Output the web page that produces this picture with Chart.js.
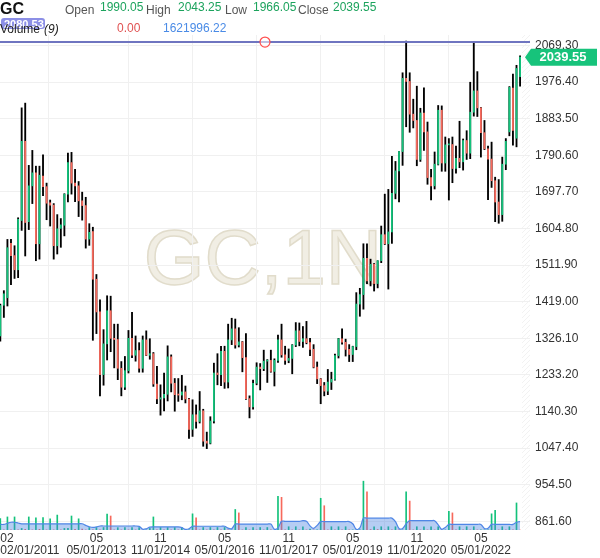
<!DOCTYPE html>
<html>
<head>
<meta charset="utf-8">
<script src="https://cdn.jsdelivr.net/npm/chart.js@4.4.0/dist/chart.umd.min.js"></script>
<style>
  html, body { margin: 0; padding: 0; background: #fff; }
  #wrap { position: relative; width: 600px; height: 558px; }
</style>
</head>
<body>
<div id="wrap"><canvas id="c" width="600" height="558"></canvas></div>
<script>
// GC,1N monthly bars, 02/2011 .. 04/2023 (index 0 = Feb 2011)
const opens = [
  1332,1410,1429,1567,1536,1500,1625,1826,1622,1713,1746,1566,
  1738,1711,1670,1664,1561,1605,1613,1692,1772,1720,1713,1675,
  1663,1578,1597,1476,1393,1234,1312,1396,1326,1323,1250,1202,
  1244,1326,1283,1295,1250,1322,1283,1287,1210,1172,1175,1184,
  1279,1212,1183,1182,1190,1172,1095,1132,1115,1142,1065,1060,
  1116,1238,1234,1293,1215,1322,1350,1309,1317,1277,1173,1152,
  1212,1253,1249,1268,1270,1242,1270,1322,1284,1270,1275,1309,
  1345,1318,1325,1315,1298,1253,1223,1206,1192,1215,1222,1282,
  1325,1316,1298,1285,1305,1413,1437,1529,1472,1514,1465,1523,
  1589,1566,1596,1694,1751,1800,1986,1978,1895,1879,1780,1898,
  1850,1734,1713,1768,1905,1771,1817,1818,1757,1783,1774,1828,
  1796,1900,1954,1911,1848,1807,1781,1726,1672,1640,1768,1850,
  1961,1834,1990.05
];
const highs = [
  1413,1447,1577,1577,1561,1632,1911,1923,1765,1803,1763,1763,
  1792,1720,1677,1668,1640,1630,1693,1796,1798,1755,1724,1697,
  1684,1617,1608,1488,1424,1348,1434,1433,1362,1362,1267,1280,
  1346,1392,1332,1315,1332,1345,1325,1290,1255,1208,1238,1307,
  1284,1224,1224,1232,1205,1174,1170,1157,1191,1146,1088,1127,
  1263,1287,1306,1306,1362,1377,1375,1353,1318,1338,1180,1220,
  1264,1262,1296,1272,1296,1274,1334,1362,1306,1299,1310,1366,
  1365,1356,1369,1326,1310,1266,1224,1214,1247,1240,1286,1326,
  1350,1324,1310,1306,1442,1453,1566,1566,1527,1516,1523,1611,
  1692,1704,1788,1775,1800,2000,2080.53,2000,1933,1966,1910,1962,
  1875,1755,1799,1917,1916,1837,1833,1837,1814,1877,1832,1853,
  1976,2075,2003,1912,1879,1814,1824,1735,1729,1786,1833,1965,
  1997,2019,2043.25
];
const lows = [
  1319,1379,1408,1462,1478,1480,1600,1535,1602,1668,1523,1527,
  1688,1627,1611,1527,1540,1557,1586,1672,1692,1673,1635,1626,
  1555,1562,1321,1338,1180,1207,1271,1292,1251,1221,1180,1196,
  1238,1277,1268,1240,1240,1282,1273,1204,1160,1131,1142,1167,
  1190,1141,1166,1170,1162,1072,1077,1098,1111,1052,1046,1058,
  1111,1208,1206,1199,1200,1310,1301,1304,1241,1171,1124,1146,
  1208,1195,1244,1214,1240,1205,1265,1278,1260,1264,1236,1305,
  1307,1303,1312,1282,1251,1211,1160,1180,1183,1196,1220,1276,
  1311,1281,1267,1267,1297,1382,1400,1465,1459,1446,1454,1518,
  1564,1451,1567,1680,1672,1765,1863,1849,1860,1764,1775,1803,
  1717,1677,1705,1766,1750,1750,1677,1721,1745,1759,1753,1780,
  1782,1890,1889,1786,1805,1678,1709,1622,1618,1623,1754,1840,
  1816,1812,1966.05
];
const closes = [
  1409,1439,1556,1536,1500,1628,1826,1620,1713,1746,1566,1740,
  1711,1669,1664,1561,1604,1614,1692,1772,1720,1713,1675,1663,
  1578,1595,1476,1393,1234,1312,1396,1326,1323,1250,1202,1244,
  1326,1283,1295,1250,1322,1283,1287,1210,1172,1175,1184,1279,
  1212,1183,1182,1190,1172,1095,1132,1115,1142,1065,1060,1116,
  1238,1234,1293,1215,1322,1350,1309,1317,1277,1173,1152,1212,
  1253,1249,1268,1270,1242,1270,1322,1284,1270,1275,1309,1345,
  1318,1325,1315,1298,1253,1223,1206,1192,1215,1222,1282,1325,
  1316,1298,1285,1305,1413,1437,1529,1472,1514,1465,1523,1589,
  1566,1596,1694,1751,1800,1986,1978,1895,1879,1780,1898,1850,
  1734,1713,1768,1905,1771,1817,1818,1757,1783,1774,1828,1796,
  1900,1954,1911,1848,1807,1781,1726,1672,1640,1768,1826,1963,
  1854,2011,2039.55
];
// volume (contracts) and its 9-period average as drawn
const volumes = [
  2210,20,2520,20,2520,20,300,130,2520,20,2340,130,
  2400,20,2160,20,2880,20,300,300,2700,130,2160,180,
  20,480,20,480,20,480,3060,2700,20,450,20,450,
  20,450,20,450,20,20,300,2520,20,480,20,480,
  20,480,20,480,20,20,3120,2340,20,480,20,480,
  20,480,20,480,20,20,3960,3300,20,480,20,480,
  20,480,20,480,20,20,6480,6300,20,630,20,630,
  20,630,20,200,20,20,6120,4680,20,630,20,630,
  20,630,20,20,20,20,9420,7380,100,630,100,630,
  20,630,20,630,20,20,7380,5580,20,630,20,630,
  20,630,20,630,20,20,3600,3300,20,630,20,630,
  20,630,20,20,20,20,3120,3780,20,630,20,630,
  20,5220,0
].map(v => v * 1000);
const volMA = [
  1080,1080,1300,1500,1500,1350,1200,1200,1200,1200,1200,1200,
  1200,1200,1200,1200,1200,1200,1200,1200,1200,1200,1200,1200,
  900,630,490,600,775,775,775,775,775,775,775,775,
  775,775,775,700,150,250,550,600,600,600,600,600,
  600,600,600,450,130,250,720,720,720,720,720,720,
  720,720,720,720,350,250,1140,1140,1140,1140,1140,1140,
  1140,1140,1140,1140,1140,150,400,1680,1680,1680,1680,1680,
  1680,1800,1700,800,300,900,1620,1620,1620,1620,1620,1620,
  1620,1620,1620,1200,130,400,2290,2290,2290,2290,2290,2290,
  2290,2290,2290,1600,300,300,1200,1800,1800,1800,1800,1800,
  1800,1800,1800,1000,130,500,1080,1080,1080,1080,1080,1080,
  1080,1080,1080,1080,300,350,1080,1080,1080,1080,1080,1080,
  1080,1500,1621.99622
].map(v => v * 1000);

const yTicks = [2069.30, 1976.40, 1883.50, 1790.60, 1697.70, 1604.80, 1511.90,
                1419.00, 1326.10, 1233.20, 1140.30, 1047.40, 954.50, 861.60];
const xTickIdx = [0, 27, 45, 63, 81, 99, 117, 135];
const xTickTop = ['02', '05', '11', '05', '11', '05', '11', '05'];
const xTickBottom = ['02/01/2011', '05/01/2013', '11/01/2014', '05/01/2016',
                     '11/01/2017', '05/01/2019', '11/01/2020', '05/01/2022'];
const maxHigh = 2080.53;

const GREEN = '#13c27b', RED = '#f7695c', FONT = '"Liberation Sans", Arial, sans-serif';
const last = opens.length - 1;
const idx = opens.map((_, i) => i);
const xMin = -0.085, xMax = xMin + 530 / 3.56;
const yMin = 839.5, yMax = 2095.9;

const decor = {
  id: 'decor',
  beforeDraw(chart) {
    const { ctx } = chart;
    ctx.save();
    ctx.fillStyle = '#fff';
    ctx.fillRect(0, 0, chart.width, chart.height);
    ctx.font = '78px ' + FONT;
    ctx.textAlign = 'center';
    ctx.textBaseline = 'middle';
    ctx.fillStyle = '#f1eee4';
    ctx.strokeStyle = '#e1dccb';
    ctx.lineWidth = 1.5;
    ctx.fillText('GC,1N', 263, 262);
    ctx.strokeText('GC,1N', 263, 262);
    ctx.restore();
  },
  afterDraw(chart) {
    const { ctx, chartArea: a, scales } = chart;
    const y = scales.y;
    ctx.save();
    // hatched right margin
    ctx.beginPath();
    ctx.rect(522, a.top, a.right - 522, a.bottom - a.top);
    ctx.clip();
    ctx.strokeStyle = '#efefef';
    ctx.lineWidth = 0.8;
    for (let yy = a.top - 10; yy < a.bottom + 10; yy += 5) {
      ctx.beginPath();
      ctx.moveTo(522, yy + 8);
      ctx.lineTo(530, yy);
      ctx.stroke();
    }
    ctx.restore();

    // highest-high line with marker
    const yh = y.getPixelForValue(maxHigh) + 1;
    ctx.save();
    ctx.strokeStyle = '#6f75c0';
    ctx.lineWidth = 2;
    ctx.beginPath();
    ctx.moveTo(0, yh);
    ctx.lineTo(a.right, yh);
    ctx.stroke();
    ctx.beginPath();
    ctx.arc(265, yh, 5, 0, Math.PI * 2);
    ctx.fillStyle = 'rgba(255,255,255,0.55)';
    ctx.fill();
    ctx.strokeStyle = '#ff4d4d';
    ctx.lineWidth = 1.2;
    ctx.stroke();

    // last price label
    const yc = y.getPixelForValue(closes[last]);
    ctx.fillStyle = '#17c37b';
    ctx.beginPath();
    ctx.moveTo(525, yc);
    ctx.lineTo(531, yc - 8.5);
    ctx.lineTo(597, yc - 8.5);
    ctx.lineTo(597, yc + 8.5);
    ctx.lineTo(531, yc + 8.5);
    ctx.closePath();
    ctx.fill();
    ctx.fillStyle = '#fff';
    ctx.font = 'bold 13px ' + FONT;
    ctx.textAlign = 'center';
    ctx.textBaseline = 'middle';
    ctx.fillText(closes[last].toFixed(2), 563, yc + 0.5);

    // legend header
    ctx.textAlign = 'left';
    ctx.textBaseline = 'alphabetic';
    ctx.fillStyle = '#8c8fe6';
    ctx.beginPath();
    ctx.roundRect(1, 18, 44, 11, 3);
    ctx.fill();
    ctx.fillStyle = '#fff';
    ctx.font = 'bold 11px ' + FONT;
    ctx.fillText(maxHigh.toFixed(2), 4, 28);

    ctx.fillStyle = '#111';
    ctx.font = 'bold 16px ' + FONT;
    ctx.fillText('GC', 0, 14);
    const pairs = [['Open', opens[last], 65, 100], ['High', highs[last], 146, 178],
                   ['Low', lows[last], 225, 253], ['Close', closes[last], 298, 333]];
    ctx.font = '12px ' + FONT;
    pairs.forEach(([name, v, lx, vx]) => {
      ctx.fillStyle = '#555';
      ctx.fillText(name, lx, 14);
      ctx.fillStyle = '#1ca35d';
      ctx.fillText(v.toFixed(2), vx, 11);
    });
    ctx.fillStyle = '#222';
    ctx.fillText('Volume', 0, 33);
    ctx.font = 'italic 12px ' + FONT;
    ctx.fillText('(9)', 44, 33);
    ctx.font = '12px ' + FONT;
    ctx.fillStyle = '#e05252';
    ctx.fillText(volumes[last].toFixed(2), 117, 32);
    ctx.fillStyle = '#4a8be6';
    ctx.fillText(volMA[last].toFixed(2), 163, 32);
    ctx.restore();
  }
};

new Chart(document.getElementById('c'), {
  type: 'bar',
  data: {
    datasets: [
      {
        label: 'body', order: 0, grouped: false, barThickness: 1.2, minBarLength: 1,
        data: idx.map(i => ({ x: i, y: [opens[i], closes[i]] })),
        backgroundColor: idx.map(i => closes[i] >= opens[i] ? GREEN : RED),
      },
      {
        label: 'wick', order: 1, grouped: false, barThickness: 1.2,
        data: idx.map(i => ({ x: i, y: [lows[i], highs[i]] })),
        backgroundColor: '#000',
      },
      {
        type: 'line', label: 'Volume MA', order: 2, yAxisID: 'yv',
        data: idx.map(i => ({ x: i, y: volMA[i] })),
        borderColor: '#4f86e6', borderWidth: 1.2, backgroundColor: 'rgba(72,130,225,0.4)',
        fill: 'origin', pointRadius: 0, tension: 0.35,
      },
      {
        label: 'Volume', order: 3, grouped: false, barThickness: 1, yAxisID: 'yv',
        data: idx.map(i => ({ x: i, y: volumes[i] })),
        backgroundColor: idx.map(i => (i === 0 || volumes[i] >= volumes[i - 1]) ? GREEN : RED),
      },
    ],
  },
  options: {
    responsive: false,
    animation: false,
    devicePixelRatio: 1,
    layout: { padding: { top: 35, left: 0, right: 0, bottom: 0 } },
    plugins: { legend: { display: false }, tooltip: { enabled: false } },
    scales: {
      x: {
        type: 'linear', min: xMin, max: xMax, offset: false,
        border: { display: false },
        grid: { color: ctx => ctx.index >= xTickIdx.length ? 'rgba(0,0,0,0)' : '#f0f0f0', drawTicks: false },
        ticks: {
          autoSkip: false, maxRotation: 0, align: 'inner', padding: 3, color: '#333',
          font: { family: FONT, size: 12, lineHeight: 1 },
          callback: (v, i) => i < xTickTop.length ? [xTickTop[i], xTickBottom[i]] : '',
        },
        afterBuildTicks: s => { s.ticks = xTickIdx.map(v => ({ value: v })).concat([{ value: xMax }]); },
        afterFit: s => { s.height = 28; s.paddingLeft = 0; s.paddingRight = 0; },
      },
      y: {
        position: 'right', min: yMin, max: yMax,
        border: { display: false },
        grid: { color: '#f0f0f0', drawTicks: false },
        ticks: { padding: 5, color: '#333', font: { family: FONT, size: 12 }, callback: v => v.toFixed(2) },
        afterBuildTicks: s => { s.ticks = yTicks.map(v => ({ value: v })); },
        afterFit: s => { s.width = 70; s.paddingTop = 0; s.paddingBottom = 0; },
      },
      yv: { display: false, min: 0, max: 95.5e6 },
    },
  },
  plugins: [decor],
});
</script>
</body>
</html>
